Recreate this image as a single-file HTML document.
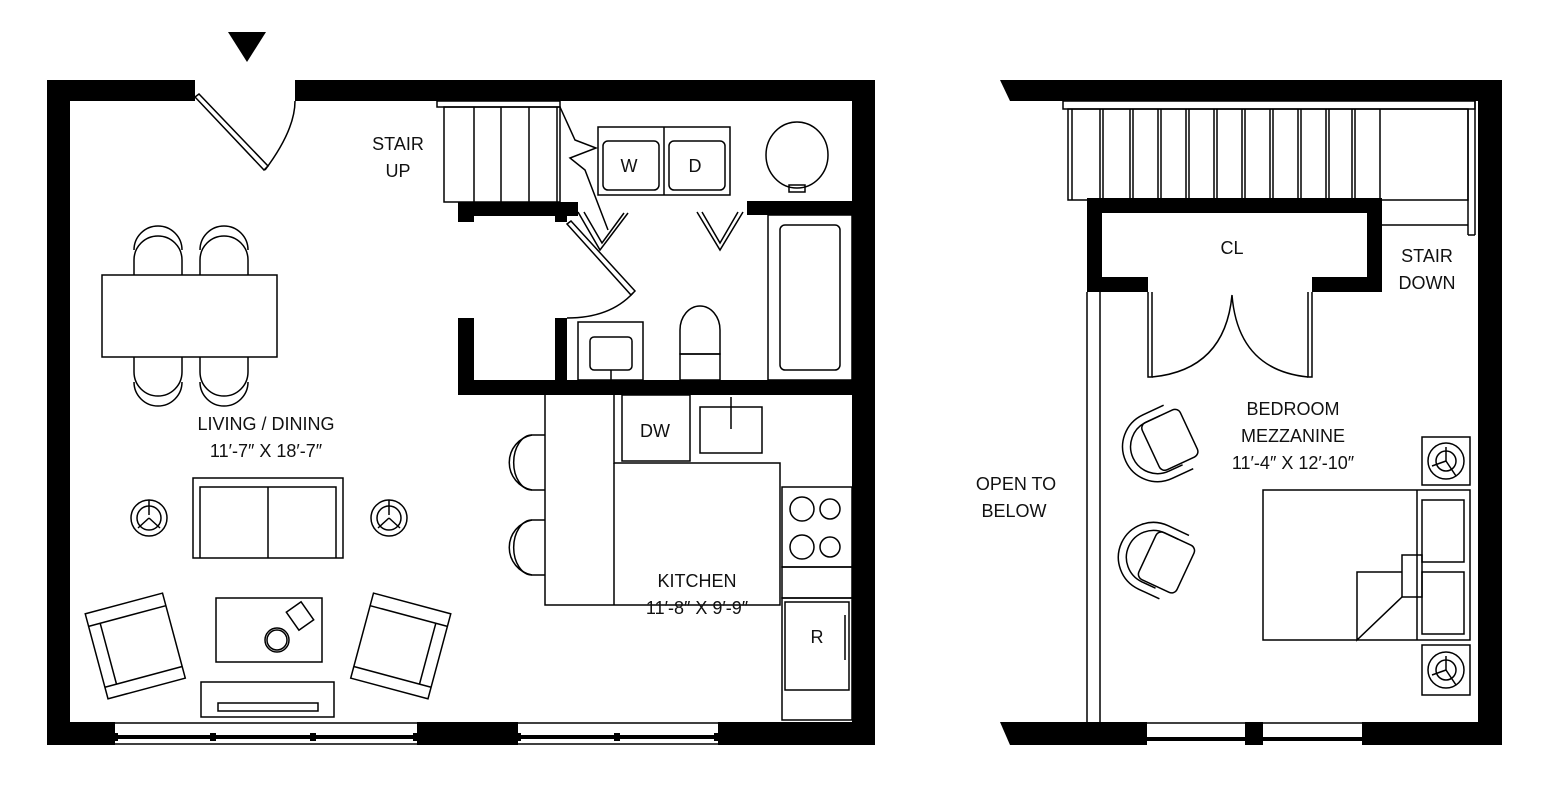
<!DOCTYPE html>
<html><head><meta charset="utf-8"><style>
html,body{margin:0;padding:0;background:#fff;width:1544px;height:792px;overflow:hidden}
svg{display:block}
text{font-family:"Liberation Sans",sans-serif;font-size:18px;fill:#111;text-anchor:middle}
</style></head><body>
<svg width="1544" height="792" viewBox="0 0 1544 792" xmlns="http://www.w3.org/2000/svg">
<g fill="#000">
<polygon points="228,32 266,32 247,62"/>
<rect x="47" y="80" width="148" height="21"/>
<rect x="295" y="80" width="580" height="21"/>
<rect x="47" y="80" width="23" height="665"/>
<rect x="852" y="80" width="23" height="665"/>
<rect x="47" y="722" width="828" height="23"/>
<rect x="458" y="202" width="120" height="14"/>
<rect x="458" y="202" width="16" height="20"/>
<rect x="555" y="202" width="12" height="20"/>
<rect x="747" y="201" width="105" height="14"/>
<rect x="458" y="318" width="16" height="77"/>
<rect x="555" y="318" width="12" height="64"/>
<rect x="458" y="380" width="394" height="15"/>
<polygon points="1000,80 1502,80 1502,101 1010,101"/>
<rect x="1478" y="80" width="24" height="665"/>
<polygon points="1000,722 1502,722 1502,745 1010,745"/>
<path d="M1087,198 H1382 V292 H1312 V277 H1367 V213 H1102 V277 H1148 V292 H1087 Z"/>
</g>
<g fill="#fff">
<rect x="115" y="722" width="302" height="23"/>
<rect x="518" y="722" width="200" height="23"/>
<rect x="1147" y="722" width="98" height="23"/>
<rect x="1263" y="722" width="99" height="23"/>
</g>
<g fill="#000">
<rect x="115" y="735" width="302" height="4"/><rect x="518" y="735" width="200" height="4"/>
<rect x="1147" y="737" width="98" height="4"/><rect x="1263" y="737" width="99" height="4"/>
<rect x="113" y="733" width="5" height="8"/><rect x="210" y="733" width="6" height="8"/><rect x="310" y="733" width="6" height="8"/><rect x="413" y="733" width="5" height="8"/>
<rect x="516" y="733" width="5" height="8"/><rect x="614" y="733" width="6" height="8"/><rect x="714" y="733" width="5" height="8"/>
</g>
<g fill="none" stroke="#000" stroke-width="1.5">
<line x1="115" y1="723" x2="417" y2="723"/><line x1="115" y1="744" x2="417" y2="744"/>
<line x1="518" y1="723" x2="718" y2="723"/><line x1="518" y1="744" x2="718" y2="744"/>
<line x1="1147" y1="723" x2="1245" y2="723"/><line x1="1263" y1="723" x2="1362" y2="723"/>
<polygon points="195,97 199,94 268,166 264,170"/>
<path d="M265,170 Q295,130 295,101"/>
<rect x="437" y="101" width="123" height="6"/>
<rect x="444" y="107" width="116" height="95"/>
<line x1="474" y1="107" x2="474" y2="202"/><line x1="501" y1="107" x2="501" y2="202"/>
<line x1="529" y1="107" x2="529" y2="202"/><line x1="557" y1="107" x2="557" y2="202"/>
<polyline points="560,107 575,140 596,148 570,158 585,170 608,230"/>
<rect x="598" y="127" width="132" height="68"/><line x1="664" y1="127" x2="664" y2="195"/>
<rect x="603" y="141" width="56" height="49" rx="5"/><rect x="669" y="141" width="56" height="49" rx="5"/>
<ellipse cx="797" cy="155" rx="31" ry="33"/><rect x="789" y="185" width="16" height="7"/>
<polyline points="578,212 600,250 628,213"/><polyline points="584,212 602,243 624,213"/>
<polyline points="697,212 720,250 743,212"/><polyline points="702,212 720,243 738,212"/>
<polygon points="567,224 571,221 635,291 631,295"/>
<path d="M633,293 Q610,318 567,318"/>
<rect x="578" y="322" width="65" height="58"/><rect x="590" y="337" width="42" height="33" rx="4"/>
<line x1="611" y1="370" x2="611" y2="380"/>
<path d="M680,354 V330 A20,24 0 0 1 720,330 V354 Z"/><rect x="680" y="354" width="40" height="26"/>
<rect x="768" y="215" width="84" height="165"/><rect x="780" y="225" width="60" height="145" rx="5"/>
<path d="M545,395 V605 H780 V463 H614 V395"/><line x1="614" y1="463" x2="614" y2="605"/>
<rect x="622" y="395" width="68" height="66"/>
<rect x="700" y="407" width="62" height="46"/><line x1="731" y1="397" x2="731" y2="429"/>
<rect x="782" y="487" width="70" height="80"/>
<circle cx="802" cy="509" r="12"/><circle cx="830" cy="509" r="10"/>
<circle cx="802" cy="547" r="12"/><circle cx="830" cy="547" r="10"/>
<rect x="782" y="567" width="70" height="31"/>
<rect x="782" y="598" width="70" height="122"/><rect x="785" y="602" width="64" height="88"/>
<line x1="845" y1="615" x2="845" y2="660"/>
<path d="M545,435 H532 A28,28 0 0 0 532,490 H545"/><path d="M532,435 A18,27 0 0 0 532,490"/>
<path d="M545,520 H532 A28,28 0 0 0 532,575 H545"/><path d="M532,520 A18,27 0 0 0 532,575"/>
<rect x="102" y="275" width="175" height="82"/>
<path d="M134,275 V260 A24,24 0 0 1 182,260 V275"/><path d="M134,250 A24,24 0 0 1 182,250"/>
<path d="M200,275 V260 A24,24 0 0 1 248,260 V275"/><path d="M200,250 A24,24 0 0 1 248,250"/>
<path d="M134,357 V372 A24,24 0 0 0 182,372 V357"/><path d="M134,382 A24,24 0 0 0 182,382"/>
<path d="M200,357 V372 A24,24 0 0 0 248,372 V357"/><path d="M200,382 A24,24 0 0 0 248,382"/>
<rect x="193" y="478" width="150" height="80"/><path d="M200,558 V487 H336 V558"/><line x1="268" y1="487" x2="268" y2="558"/>
<circle cx="149" cy="518" r="18"/><circle cx="149" cy="518" r="12"/><line x1="149" y1="500" x2="149" y2="515"/><line x1="149" y1="518" x2="138" y2="528"/><line x1="149" y1="518" x2="160" y2="528"/>
<circle cx="389" cy="518" r="18"/><circle cx="389" cy="518" r="12"/><line x1="389" y1="500" x2="389" y2="515"/><line x1="389" y1="518" x2="378" y2="528"/><line x1="389" y1="518" x2="400" y2="528"/>
<g transform="translate(135,645) rotate(-15)"><rect x="-40" y="-43" width="80" height="88"/><line x1="-40" y1="-30" x2="40" y2="-30"/><line x1="-40" y1="33" x2="40" y2="33"/><line x1="-28" y1="-30" x2="-28" y2="33"/></g>
<g transform="translate(401,645) rotate(15)"><rect x="-40" y="-43" width="80" height="88"/><line x1="-40" y1="-30" x2="40" y2="-30"/><line x1="-40" y1="33" x2="40" y2="33"/><line x1="28" y1="-30" x2="28" y2="33"/></g>
<rect x="216" y="598" width="106" height="64"/><circle cx="277" cy="640" r="12"/><circle cx="277" cy="640" r="10"/>
<g transform="translate(300,616) rotate(-35)"><rect x="-9" y="-11" width="18" height="22"/></g>
<rect x="201" y="682" width="133" height="35"/><rect x="218" y="703" width="100" height="8"/>
<rect x="1063" y="101" width="412" height="8"/>
<rect x="1068" y="109" width="400" height="91"/>
<line x1="1468" y1="109" x2="1468" y2="235"/><line x1="1475" y1="101" x2="1475" y2="235"/><line x1="1468" y1="235" x2="1475" y2="235"/>
<line x1="1382" y1="225" x2="1468" y2="225"/>
<line x1="1072" y1="109" x2="1072" y2="200"/><line x1="1100" y1="109" x2="1100" y2="200"/><line x1="1103" y1="109" x2="1103" y2="200"/>
<line x1="1130" y1="109" x2="1130" y2="200"/><line x1="1133" y1="109" x2="1133" y2="200"/>
<line x1="1158" y1="109" x2="1158" y2="200"/><line x1="1161" y1="109" x2="1161" y2="200"/>
<line x1="1186" y1="109" x2="1186" y2="200"/><line x1="1189" y1="109" x2="1189" y2="200"/>
<line x1="1214" y1="109" x2="1214" y2="200"/><line x1="1217" y1="109" x2="1217" y2="200"/>
<line x1="1242" y1="109" x2="1242" y2="200"/><line x1="1245" y1="109" x2="1245" y2="200"/>
<line x1="1270" y1="109" x2="1270" y2="200"/><line x1="1273" y1="109" x2="1273" y2="200"/>
<line x1="1298" y1="109" x2="1298" y2="200"/><line x1="1301" y1="109" x2="1301" y2="200"/>
<line x1="1326" y1="109" x2="1326" y2="200"/><line x1="1329" y1="109" x2="1329" y2="200"/>
<line x1="1352" y1="109" x2="1352" y2="200"/><line x1="1355" y1="109" x2="1355" y2="200"/>
<line x1="1380" y1="109" x2="1380" y2="200"/>
<line x1="1087" y1="292" x2="1087" y2="722"/><line x1="1100" y1="292" x2="1100" y2="722"/>
<path d="M1148,292 V377 H1152 V292 M1312,292 V377 H1308 V292"/>
<path d="M1152,377 Q1225,370 1232,295 Q1238,370 1308,377"/>
<g transform="translate(1160,440) rotate(-25)"><path d="M18,-30 H-5 A35,35 0 0 0 -5,40 H18"/><path d="M10,-22 H-5 A26,26 0 0 0 -5,32 H10"/><rect x="-12" y="-22" width="42" height="52" rx="6"/></g>
<g transform="translate(1160,555) rotate(25)"><path d="M18,-30 H-5 A35,35 0 0 0 -5,40 H18"/><path d="M10,-22 H-5 A26,26 0 0 0 -5,32 H10"/><rect x="-12" y="-22" width="42" height="52" rx="6"/></g>
<rect x="1263" y="490" width="207" height="150"/><line x1="1417" y1="490" x2="1417" y2="640"/>
<rect x="1422" y="500" width="42" height="62"/><rect x="1422" y="572" width="42" height="62"/>
<rect x="1402" y="555" width="20" height="42"/>
<polyline points="1402,572 1357,572 1357,640 1402,597"/>
<rect x="1422" y="437" width="48" height="48"/><circle cx="1446" cy="461" r="18"/><circle cx="1446" cy="461" r="10"/>
<line x1="1446" y1="461" x2="1446" y2="447"/><line x1="1446" y1="461" x2="1432" y2="466"/><line x1="1446" y1="461" x2="1456" y2="476"/>
<rect x="1422" y="645" width="48" height="50"/><circle cx="1446" cy="670" r="18"/><circle cx="1446" cy="670" r="10"/>
<line x1="1446" y1="670" x2="1446" y2="656"/><line x1="1446" y1="670" x2="1432" y2="675"/><line x1="1446" y1="670" x2="1456" y2="685"/>
</g>
<text x="398" y="150">STAIR</text><text x="398" y="177">UP</text>
<text x="629" y="172">W</text><text x="695" y="172">D</text>
<text x="655" y="437">DW</text>
<text x="817" y="643">R</text>
<text x="266" y="430">LIVING / DINING</text>
<text x="266" y="457">11′-7″ X 18′-7″</text>
<text x="697" y="587">KITCHEN</text>
<text x="697" y="614">11′-8″ X 9′-9″</text>
<text x="1232" y="254">CL</text>
<text x="1427" y="262">STAIR</text><text x="1427" y="289">DOWN</text>
<text x="1293" y="415">BEDROOM</text><text x="1293" y="442">MEZZANINE</text><text x="1293" y="469">11′-4″ X 12′-10″</text>
<text x="1016" y="490">OPEN TO</text><text x="1014" y="517">BELOW</text>
</svg>
</body></html>
